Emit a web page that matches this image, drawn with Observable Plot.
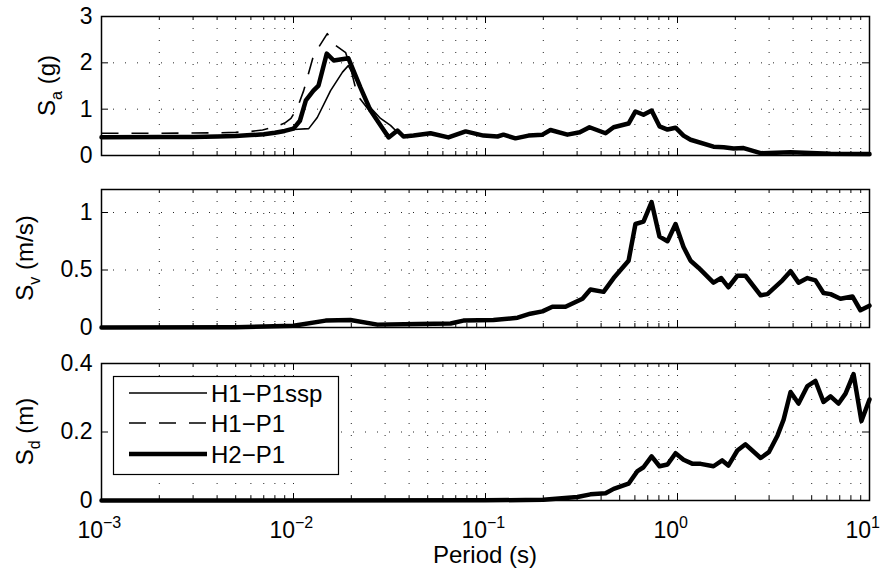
<!DOCTYPE html>
<html><head><meta charset="utf-8">
<script src="https://cdn.jsdelivr.net/npm/d3@7"></script>
<script src="https://cdn.jsdelivr.net/npm/@observablehq/plot@0.6"></script>
<style>
body{margin:0;background:#fff;}
#chart{position:relative;width:887px;height:576px;background:#fff;overflow:hidden;}
#chart svg{position:absolute;left:0;}
</style></head><body><div id="chart"></div>
<script>
// ---- Data ----
const seriesNames = ["H1\u2212P1ssp", "H1\u2212P1", "H2\u2212P1"];

// Sa (g)
const saH2P1T = [0.001,0.002,0.003,0.004,0.005,0.006,0.007,0.008,0.009,0.0100,0.0108,0.0116,0.0127,0.0135,0.0149,0.0162,0.0193,0.0223,0.0252,0.0313,0.0348,0.0374,0.0422,0.0517,0.0641,0.0788,0.0977,0.1155,0.124,0.1432,0.1675,0.198,0.218,0.267,0.310,0.348,0.422,0.465,0.556,0.604,0.665,0.733,0.806,0.887,0.977,1.075,1.17,1.54,1.74,1.96,2.21,2.71,3.88,6.27,10];
const saH2P1  = [0.395,0.40,0.40,0.41,0.42,0.44,0.46,0.49,0.53,0.58,0.75,1.19,1.40,1.51,2.20,2.05,2.10,1.47,0.97,0.39,0.54,0.41,0.43,0.48,0.39,0.52,0.43,0.41,0.45,0.37,0.43,0.45,0.55,0.45,0.50,0.61,0.48,0.61,0.69,0.95,0.88,0.97,0.63,0.56,0.60,0.43,0.34,0.19,0.18,0.15,0.16,0.05,0.07,0.04,0.03];

const saH1P1sspT = [0.001,0.002,0.003,0.004,0.005,0.006,0.007,0.008,0.009,0.010,0.0120,0.0133,0.0156,0.0180,0.0193,0.0215,0.0246,0.0284,0.0320,0.0352,0.0393,0.0422];
const saH1P1ssp  = [0.395,0.40,0.40,0.41,0.42,0.44,0.46,0.49,0.52,0.56,0.58,0.82,1.40,1.80,1.94,1.58,1.08,0.80,0.65,0.48,0.39,0.43];

const saH1P1T = [0.001,0.002,0.003,0.004,0.005,0.006,0.0069,0.0080,0.0090,0.0097,0.0105,0.0113,0.0126,0.0135,0.0150,0.0165,0.0187,0.0198,0.0215,0.0250,0.0280,0.0313,0.0350,0.0374,0.0422];
const saH1P1  = [0.48,0.48,0.485,0.49,0.50,0.52,0.55,0.62,0.70,0.80,1.04,1.40,2.10,2.33,2.63,2.38,2.22,1.90,1.30,0.95,0.70,0.45,0.52,0.41,0.43];

// Sv (m/s)
const svH2P1T = [0.001,0.005,0.010,0.0147,0.0198,0.0274,0.0443,0.0658,0.0767,0.110,0.147,0.171,0.198,0.223,0.261,0.320,0.352,0.412,0.465,0.556,0.604,0.665,0.733,0.806,0.887,0.977,1.075,1.17,1.286,1.54,1.69,1.84,2.05,2.26,2.71,2.94,3.52,3.88,4.27,4.75,5.23,5.76,6.27,7.06,8.15,8.97,10];
const svH2P1  = [0.0,0.003,0.015,0.06,0.065,0.025,0.03,0.035,0.06,0.065,0.085,0.12,0.14,0.18,0.18,0.25,0.33,0.31,0.43,0.58,0.90,0.92,1.09,0.79,0.75,0.90,0.70,0.58,0.52,0.39,0.43,0.35,0.45,0.45,0.28,0.29,0.41,0.49,0.39,0.43,0.41,0.30,0.29,0.25,0.27,0.15,0.19];

// Sd (m)
const sdH2P1T = [0.001,0.1,0.2,0.301,0.352,0.422,0.465,0.556,0.619,0.665,0.733,0.806,0.887,0.977,1.075,1.20,1.32,1.54,1.71,1.84,2.05,2.26,2.71,2.99,3.32,3.57,3.88,4.27,4.75,5.23,5.76,6.27,6.90,7.50,8.26,9.08,10];
const sdH2P1  = [0.0,0.0005,0.002,0.010,0.018,0.021,0.034,0.049,0.086,0.097,0.129,0.100,0.105,0.138,0.119,0.107,0.107,0.100,0.117,0.102,0.146,0.164,0.124,0.141,0.190,0.236,0.317,0.283,0.334,0.349,0.288,0.304,0.283,0.312,0.369,0.232,0.295];

// Axes
const xExponents = [-3,-2,-1,0,1];
const saTicks = [0,1,2,3];
const svTicks = [0,0.5,1];
const sdTicks = [0,0.2,0.4];

// ---- helpers ----
const W = 887, ML = 101, MR = 18, PW = W - ML - MR;
const xMajor = xExponents.map(e => Math.pow(10, e));
const xMinor = [];
for (let e = -3; e < 1; e++) for (let m = 2; m <= 9; m++) xMinor.push(m * Math.pow(10, e));
const xGrid = [...xMinor, ...xMajor.slice(1, -1)];
const toRows = (T, V) => T.map((t, i) => ({T: t, v: V[i]}));
const FONT = "'Liberation Sans', Arial, Helvetica, sans-serif";
const DASH = "17,13";
const THICK = 4.5;

function panel({lines, yDomain, yTicks, top, height, mt, mb, sub, unit, labelX}) {
  const PH = height - mt - mb;
  const gridY = yTicks.filter(v => v > yDomain[0] && v < yDomain[1]);
  const dotted = {stroke: "#000", strokeWidth: 1, strokeDasharray: "1,11", strokeOpacity: 0.85};
  const marks = [
    Plot.ruleX(xGrid, {...dotted}),
    Plot.ruleY(gridY, {...dotted}),
    ...lines.map(l => Plot.line(l.data, {x: "T", y: "v", stroke: "#000", strokeWidth: l.w,
      strokeDasharray: l.dash || null, strokeLinecap: l.dash ? "butt" : "round", strokeLinejoin: "round"})),
    Plot.tickX(xMajor.slice(1, -1), {x: d => d, insetTop: PH - 7, stroke: "#000"}),
    Plot.tickX(xMajor.slice(1, -1), {x: d => d, insetBottom: PH - 7, stroke: "#000"}),
    Plot.tickX(xMinor, {x: d => d, insetTop: PH - 4, stroke: "#000"}),
    Plot.tickX(xMinor, {x: d => d, insetBottom: PH - 4, stroke: "#000"}),
    Plot.tickY(gridY, {y: d => d, insetRight: PW - 7, stroke: "#000"}),
    Plot.tickY(gridY, {y: d => d, insetLeft: PW - 7, stroke: "#000"}),
    Plot.frame({stroke: "#000", strokeWidth: 1.5})
  ];
  const svg = Plot.plot({
    width: W, height, marginLeft: ML, marginRight: MR, marginTop: mt, marginBottom: mb,
    style: {fontFamily: FONT, fontSize: "23px", color: "#000", background: "transparent", overflow: "visible"},
    x: {type: "log", domain: [1e-3, 10], axis: null},
    y: {domain: yDomain, ticks: yTicks, tickSize: 0, tickPadding: 9, tickFormat: d => String(d), label: null},
    marks
  });
  svg.style.top = top + "px";
  const t = d3.select(svg).append("text")
    .attr("transform", `translate(${labelX},${mt + PH / 2}) rotate(-90)`)
    .attr("text-anchor", "middle").attr("fill", "#000")
    .style("font-family", FONT).style("font-size", "24px");
  t.append("tspan").text("S");
  t.append("tspan").attr("dy", 7).style("font-size", "16px").text(sub);
  t.append("tspan").attr("dy", -7).text(" " + unit);
  document.getElementById("chart").appendChild(svg);
  return svg;
}

panel({
  lines: [
    {data: toRows(saH1P1sspT, saH1P1ssp), w: 1.6},
    {data: toRows(saH1P1T, saH1P1), w: 1.6, dash: DASH},
    {data: toRows(saH2P1T, saH2P1), w: THICK}
  ],
  yDomain: [0, 3], yTicks: saTicks, top: 0, height: 180, mt: 16, mb: 25, sub: "a", unit: "(g)", labelX: 55
});
panel({
  lines: [{data: toRows(svH2P1T, svH2P1), w: THICK}],
  yDomain: [0, 1.2], yTicks: svTicks, top: 180, height: 170, mt: 9, mb: 23, sub: "v", unit: "(m/s)", labelX: 33
});
const svg3 = panel({
  lines: [{data: toRows(sdH2P1T, sdH2P1), w: THICK}],
  yDomain: [0, 0.4], yTicks: sdTicks, top: 350, height: 226, mt: 13, mb: 76, sub: "d", unit: "(m)", labelX: 33
});

// x tick labels (10^n) and x label, placed with the plot's own x scale
const sx = svg3.scale("x");
const g3 = d3.select(svg3).append("g").attr("fill", "#000").style("font-family", FONT);
xExponents.forEach(e => {
  const px = sx.apply(Math.pow(10, e));
  g3.append("text").attr("x", px + 2).attr("y", 188).attr("text-anchor", "end").style("font-size", "23px").text("10");
  g3.append("text").attr("x", px + 2).attr("y", 178).attr("text-anchor", "start").style("font-size", "16px")
    .text(e < 0 ? "\u2212" + Math.abs(e) : String(e));
});
g3.append("text").attr("x", ML + PW / 2).attr("y", 213).attr("text-anchor", "middle").style("font-size", "24px").text("Period (s)");

// legend
const lg = d3.select(svg3).append("g").style("font-family", FONT).attr("text-anchor", "start");
lg.append("rect").attr("x", 113.5).attr("y", 26.5).attr("width", 225).attr("height", 98)
  .attr("fill", "#fff").attr("stroke", "#000").attr("stroke-width", 1.2);
const legendStyles = [{w: 1.6, dash: null}, {w: 1.6, dash: DASH}, {w: 4.5, dash: null}];
const rowsY = [43, 73, 104];
seriesNames.forEach((name, i) => {
  lg.append("line").attr("x1", 129).attr("x2", 207).attr("y1", rowsY[i]).attr("y2", rowsY[i])
    .attr("stroke", "#000").attr("stroke-width", legendStyles[i].w)
    .attr("stroke-dasharray", legendStyles[i].dash);
  lg.append("text").attr("x", 211).attr("y", rowsY[i] + 9).attr("fill", "#000")
    .attr("text-anchor", "start").style("font-size", "24px").text(name);
});
</script>
</body></html>
